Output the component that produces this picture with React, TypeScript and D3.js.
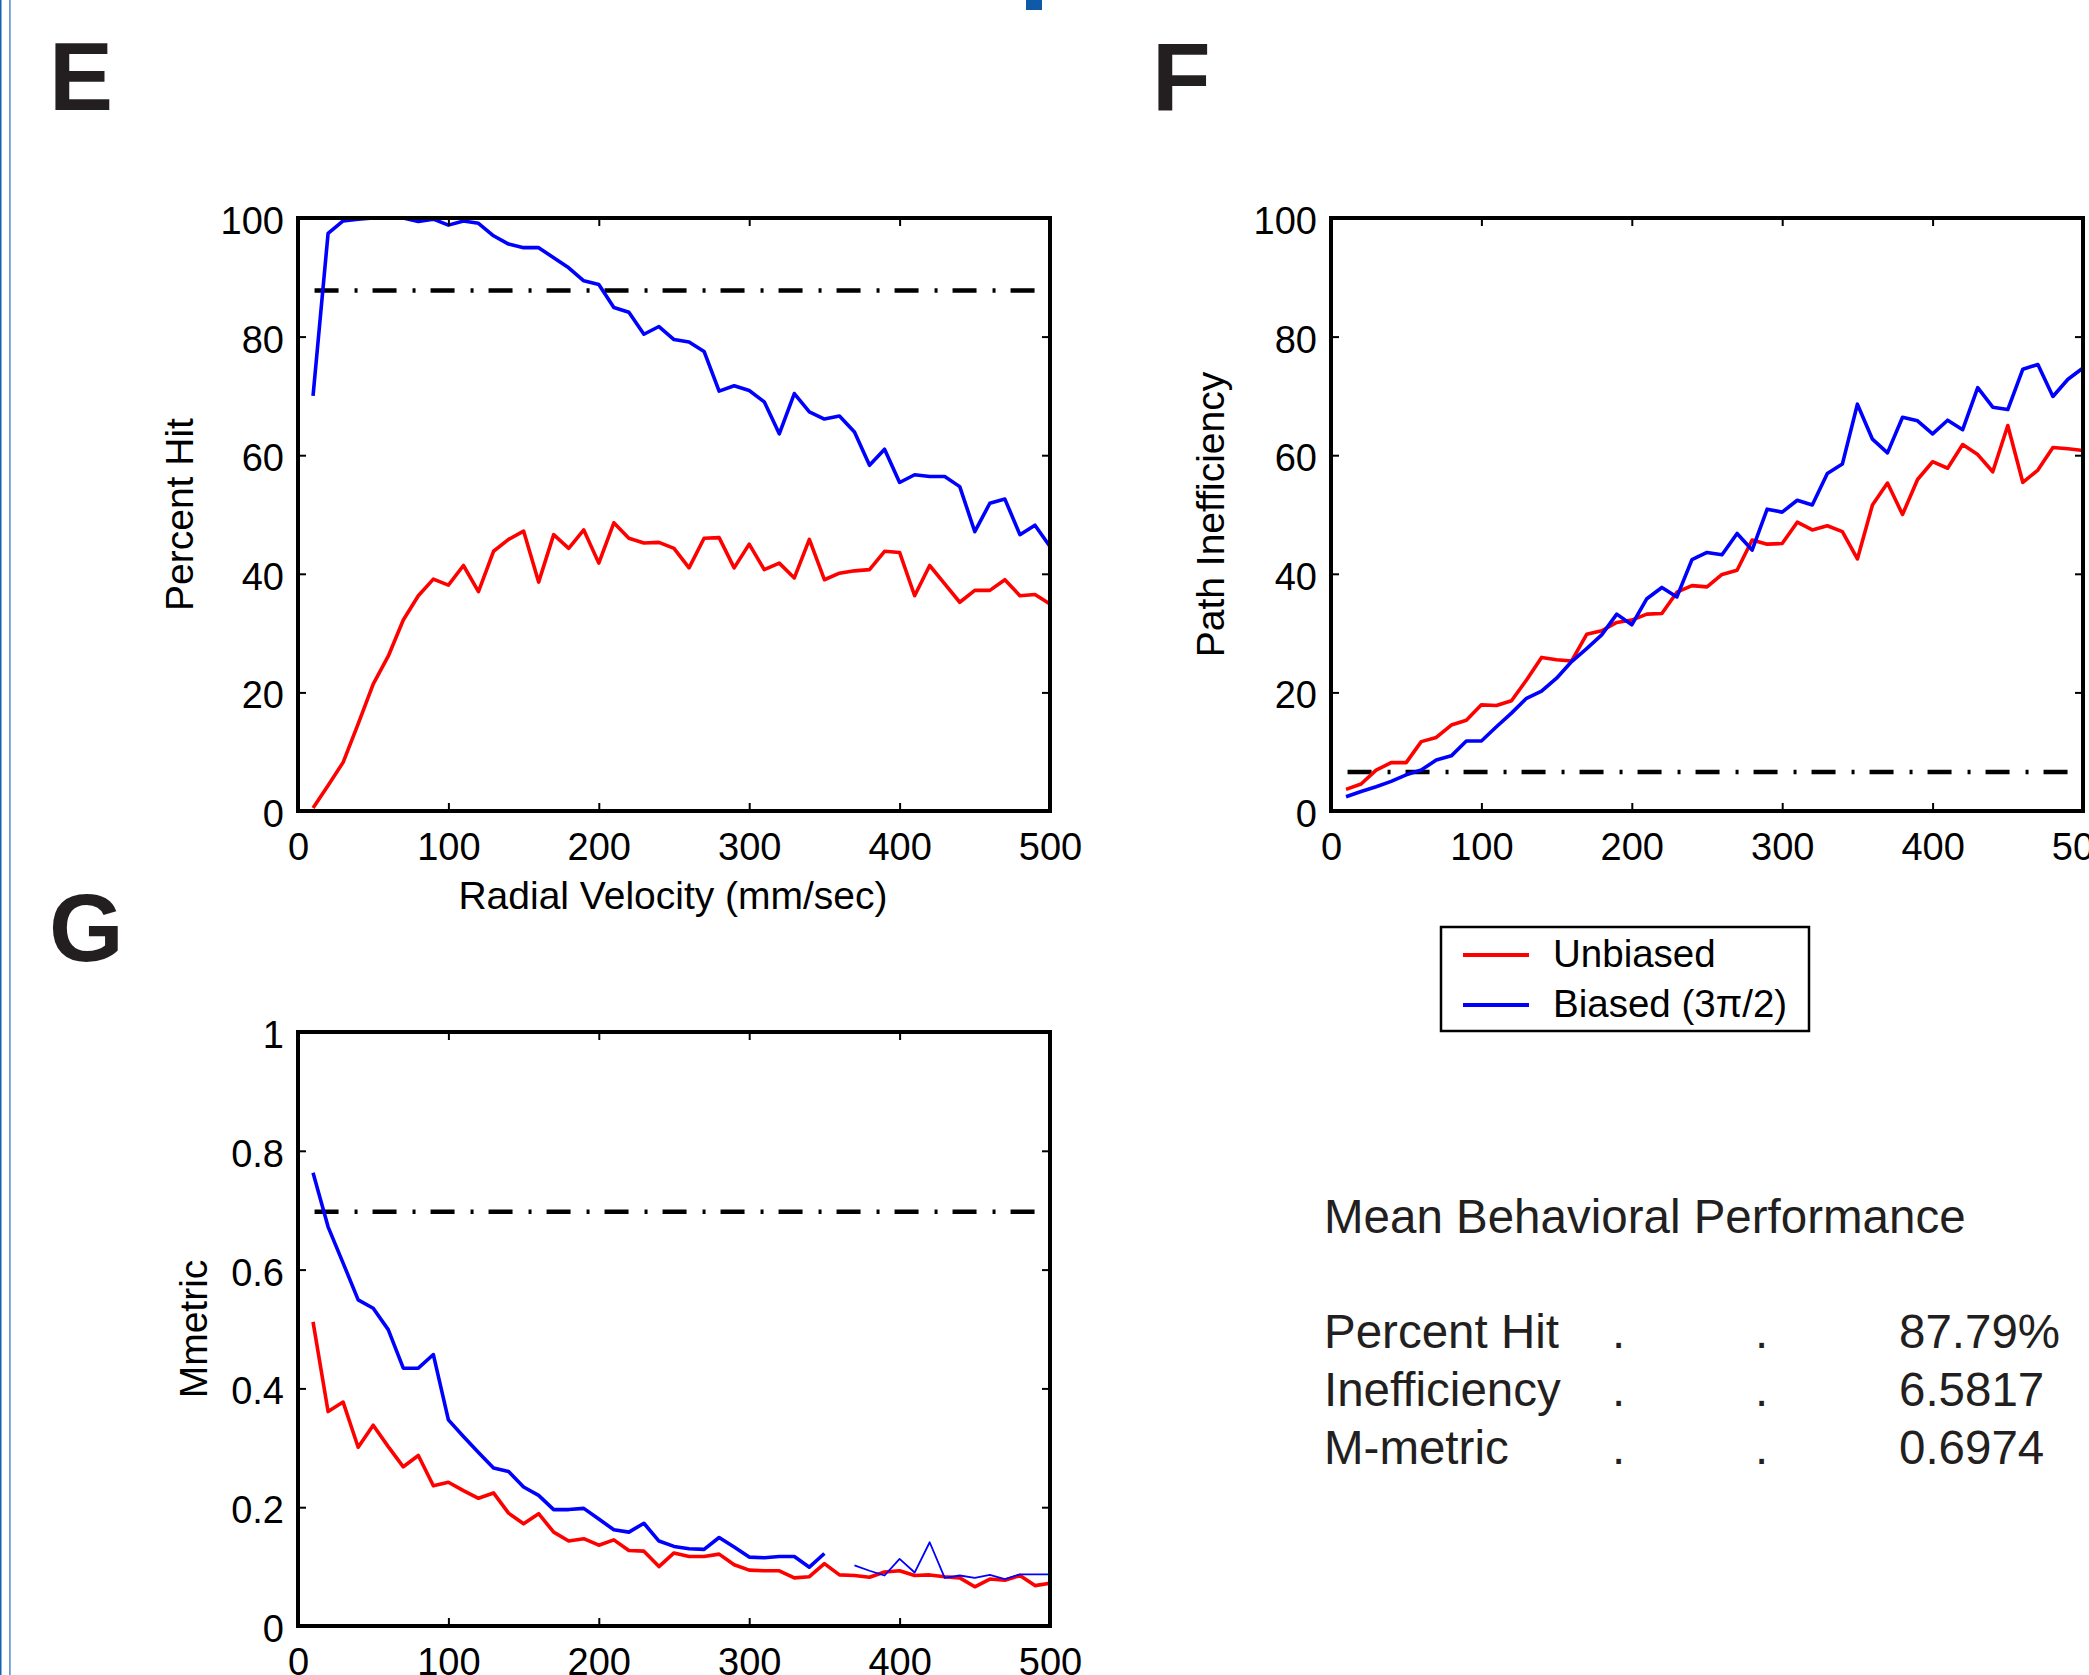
import { useEffect, useRef } from "react";
import * as d3 from "d3";

// velocities (mm/sec) at which each measure was sampled
const velocity = [
  10, 20, 30, 40, 50, 60, 70, 80, 90, 100,
  110, 120, 130, 140, 150, 160, 170, 180, 190, 200,
  210, 220, 230, 240, 250, 260, 270, 280, 290, 300,
  310, 320, 330, 340, 350, 360, 370, 380, 390, 400,
  410, 420, 430, 440, 450, 460, 470, 480, 490, 500,
];

const hitUnbiased = [
  0.5, 4.3, 8.2, 14.7, 21.4, 26.1, 32.2, 36.3, 39.1, 38.1,
  41.4, 37, 43.8, 45.8, 47.2, 38.6, 46.6, 44.3, 47.4, 41.8,
  48.6, 46, 45.2, 45.3, 44.3, 41, 46, 46.1, 41, 45,
  40.7, 41.8, 39.3, 45.8, 39, 40.1, 40.5, 40.7, 43.8, 43.6,
  36.3, 41.4, 38.3, 35.2, 37.2, 37.2, 39, 36.3, 36.5, 34.9,
];
const hitBiased = [
  70, 97.4, 99.5, 99.8, 100, 100, 100, 99.4, 99.8, 98.8,
  99.5, 99.1, 97, 95.6, 95, 95, 93.3, 91.6, 89.4, 88.8,
  84.9, 84.1, 80.4, 81.7, 79.5, 79.1, 77.5, 70.8, 71.7, 70.9,
  69, 63.6, 70.4, 67.3, 66.1, 66.6, 63.9, 58.3, 61, 55.4,
  56.7, 56.4, 56.4, 54.7, 47.1, 51.9, 52.6, 46.6, 48.2, 44.6,
];

const ineffUnbiased = [
  3.65, 4.55, 6.9, 8.15, 8.15, 11.7, 12.4, 14.5, 15.3, 17.9,
  17.8, 18.6, 22.1, 25.9, 25.5, 25.3, 29.8, 30.4, 31.8, 32.2,
  33.2, 33.3, 36.9, 38, 37.8, 39.9, 40.6, 45.7, 45, 45.1,
  48.7, 47.4, 48.1, 47.1, 42.5, 51.6, 55.3, 50, 55.9, 58.9,
  57.8, 61.8, 60.1, 57.2, 65, 55.4, 57.5, 61.3, 61.1, 60.8,
];
const ineffBiased = [
  2.4, 3.3, 4.1, 5, 6.1, 6.9, 8.6, 9.3, 11.8, 11.8,
  14.2, 16.5, 19, 20.2, 22.4, 25.2, 27.4, 29.7, 33.2, 31.4,
  35.8, 37.7, 36.1, 42.4, 43.6, 43.2, 46.8, 44, 50.9, 50.4,
  52.4, 51.6, 56.9, 58.5, 68.6, 62.7, 60.4, 66.4, 65.8, 63.6,
  65.9, 64.3, 71.4, 68.1, 67.7, 74.5, 75.3, 69.9, 72.8, 74.7,
];

const mmUnbiased = [
  0.512, 0.361, 0.377, 0.301, 0.338, 0.302, 0.268, 0.287, 0.236, 0.242,
  0.228, 0.215, 0.224, 0.19, 0.172, 0.189, 0.158, 0.143, 0.147, 0.136,
  0.145, 0.127, 0.126, 0.1, 0.123, 0.117, 0.117, 0.121, 0.103, 0.094,
  0.093, 0.093, 0.081, 0.083, 0.105, 0.086, 0.085, 0.082, 0.091, 0.093,
  0.085, 0.086, 0.083, 0.081, 0.066, 0.079, 0.077, 0.085, 0.068, 0.072,
];
// gap at 360, the tail after the gap is drawn with a thin pen in the original
const mmBiased = [
  0.763, 0.672, 0.611, 0.549, 0.535, 0.499, 0.434, 0.434, 0.457, 0.347,
  0.319, 0.292, 0.266, 0.26, 0.234, 0.22, 0.196, 0.196, 0.198, 0.18,
  0.162, 0.158, 0.173, 0.143, 0.134, 0.13, 0.129, 0.149, 0.133, 0.116,
  0.115, 0.117, 0.117, 0.099, 0.122, null, 0.102, 0.093, 0.085, 0.113,
  0.09, 0.141, 0.081, 0.085, 0.081, 0.086, 0.079, 0.087, 0.087, 0.087,
];

const xTicks = [0, 100, 200, 300, 400, 500];
const pctTicks = [0, 20, 40, 60, 80, 100];
const mmTicks = [0, 0.2, 0.4, 0.6, 0.8, 1];

// mean behavioral performance (also the dash-dot reference levels)
const statNames = ["Percent Hit", "Inefficiency", "M-metric"];
const statValues = ["87.79%", "6.5817", "0.6974"];
const statLevels = [87.79, 6.5817, 0.6974];

const legendNames = ["Unbiased", "Biased (3\u03c0/2)"];
const RED = "#ff0000";
const BLUE = "#0000ff";
const FONT = "'Liberation Sans', Arial, Helvetica, sans-serif";

type Panel = {
  letter: string;
  lx: number;
  ly: number;
  x0: number; x1: number; y0: number; y1: number;
  yMax: number;
  yTicks: number[];
  yLabel: string;
  yLabelX: number;
  xLabel?: string;
  ref: number;
  red: (number | null)[];
  blue: (number | null)[];
  thinAfter?: number;
};

function drawPanel(svg: any, p: Panel) {
  const x = d3.scaleLinear().domain([0, 500]).range([p.x0, p.x1]);
  const y = d3.scaleLinear().domain([0, p.yMax]).range([p.y1, p.y0]);

  svg.append("text")
    .attr("x", p.lx).attr("y", p.ly)
    .style("font-family", FONT).style("font-weight", "700").style("font-size", "96px")
    .attr("fill", "#231f20")
    .text(p.letter);

  // dash-dot mean level
  svg.append("line")
    .attr("x1", x(11)).attr("x2", x(492))
    .attr("y1", y(p.ref)).attr("y2", y(p.ref))
    .attr("stroke", "#000").attr("stroke-width", 4.5)
    .attr("stroke-dasharray", "24,16,3,15");

  const line = d3.line<any>()
    .defined(d => d.v != null)
    .x(d => x(d.x))
    .y(d => y(d.v));

  const series = [
    { vals: p.red, color: RED },
    { vals: p.blue, color: BLUE },
  ];
  series.forEach(s => {
    const pts = velocity.map((v, i) => ({ x: v, v: s.vals[i] }));
    if (p.thinAfter != null && s.color === BLUE) {
      const a = pts.filter(d => d.x <= p.thinAfter!);
      const b = pts.filter(d => d.x > p.thinAfter!);
      svg.append("path").attr("d", line(a)).attr("fill", "none")
        .attr("stroke", s.color).attr("stroke-width", 3.6).attr("stroke-linejoin", "round");
      svg.append("path").attr("d", line(b)).attr("fill", "none")
        .attr("stroke", s.color).attr("stroke-width", 1.8).attr("stroke-linejoin", "round");
    } else {
      svg.append("path").attr("d", line(pts)).attr("fill", "none")
        .attr("stroke", s.color).attr("stroke-width", 3.6).attr("stroke-linejoin", "round");
    }
  });

  const styleAxis = (g: any) => {
    g.select(".domain").remove();
    g.selectAll("line").attr("stroke", "#000").attr("stroke-width", 2);
    g.selectAll("text")
      .style("font-family", FONT).style("font-size", "38px").attr("fill", "#000");
  };

  const fmt = (d: any) => String(d);

  svg.append("g").attr("transform", `translate(0,${p.y1})`)
    .call(d3.axisBottom(x).tickValues(xTicks).tickSize(-8).tickPadding(22).tickFormat(fmt))
    .call(styleAxis);
  svg.append("g").attr("transform", `translate(${p.x0},0)`)
    .call(d3.axisLeft(y).tickValues(p.yTicks).tickSize(-8).tickPadding(14).tickFormat(fmt))
    .call(styleAxis)
    .selectAll("text").attr("dy", "0.41em");
  svg.append("g").attr("transform", `translate(0,${p.y0})`)
    .call(d3.axisTop(x).tickValues(xTicks).tickSize(-8).tickFormat(() => ""))
    .call(styleAxis);
  svg.append("g").attr("transform", `translate(${p.x1},0)`)
    .call(d3.axisRight(y).tickValues(p.yTicks).tickSize(-8).tickFormat(() => ""))
    .call(styleAxis);

  svg.append("rect")
    .attr("x", p.x0).attr("y", p.y0)
    .attr("width", p.x1 - p.x0).attr("height", p.y1 - p.y0)
    .attr("fill", "none").attr("stroke", "#000").attr("stroke-width", 4);

  svg.append("text")
    .attr("transform", `translate(${p.yLabelX},${(p.y0 + p.y1) / 2}) rotate(-90)`)
    .attr("text-anchor", "middle")
    .style("font-family", FONT).style("font-size", "39px").attr("fill", "#000")
    .text(p.yLabel);

  if (p.xLabel) {
    svg.append("text")
      .attr("x", (p.x0 + p.x1) / 2 - 1).attr("y", p.y1 + 98)
      .attr("text-anchor", "middle")
      .style("font-family", FONT).style("font-size", "39px").attr("fill", "#000")
      .text(p.xLabel);
  }
}

export default function App() {
  const ref = useRef<SVGSVGElement>(null);

  useEffect(() => {
    const el = ref.current;
    if (!el) return;
    const svg = d3.select(el);
    svg.selectAll("*").remove();

    svg.append("rect").attr("width", 2089).attr("height", 1675).attr("fill", "#fff");

    // page edge rules and the clipped mark at the top
    svg.append("rect").attr("x", 0).attr("y", 0).attr("width", 1.5).attr("height", 1675).attr("fill", "#1560b8");
    svg.append("rect").attr("x", 9).attr("y", 0).attr("width", 1.8).attr("height", 1675).attr("fill", "#6f9fd4");
    svg.append("rect").attr("x", 1026).attr("y", 0).attr("width", 16).attr("height", 10).attr("fill", "#0f5aa8");

    const panels: Panel[] = [
      {
        letter: "E", lx: 49, ly: 110,
        x0: 298, x1: 1050, y0: 218, y1: 811,
        yMax: 100, yTicks: pctTicks, yLabel: "Percent Hit", yLabelX: 193,
        xLabel: "Radial Velocity (mm/sec)",
        ref: statLevels[0], red: hitUnbiased, blue: hitBiased,
      },
      {
        letter: "F", lx: 1152, ly: 110,
        x0: 1331, x1: 2083, y0: 218, y1: 811,
        yMax: 100, yTicks: pctTicks, yLabel: "Path Inefficiency", yLabelX: 1224,
        ref: statLevels[1], red: ineffUnbiased, blue: ineffBiased,
      },
      {
        letter: "G", lx: 49, ly: 961,
        x0: 298, x1: 1050, y0: 1032, y1: 1626,
        yMax: 1, yTicks: mmTicks, yLabel: "Mmetric", yLabelX: 207,
        ref: statLevels[2], red: mmUnbiased, blue: mmBiased, thinAfter: 355,
      },
    ];
    panels.forEach(p => drawPanel(svg, p));

    // legend
    const lg = svg.append("g");
    lg.append("rect")
      .attr("x", 1441).attr("y", 927).attr("width", 368).attr("height", 104)
      .attr("fill", "#fff").attr("stroke", "#000").attr("stroke-width", 2.5);
    [RED, BLUE].forEach((c, i) => {
      const cy = 955 + i * 50;
      lg.append("line").attr("x1", 1463).attr("x2", 1529).attr("y1", cy).attr("y2", cy)
        .attr("stroke", c).attr("stroke-width", 4);
      lg.append("text").attr("x", 1553).attr("y", cy + 12)
        .style("font-family", FONT).style("font-size", "38.5px").attr("fill", "#000")
        .text(legendNames[i]);
    });

    // mean performance table
    const tg = svg.append("g").style("font-family", FONT).style("font-size", "47.5px").attr("fill", "#231f20");
    tg.append("text").attr("x", 1324).attr("y", 1233).text("Mean Behavioral Performance");
    statNames.forEach((n, i) => {
      const by = 1348 + i * 58;
      tg.append("text").attr("x", 1324).attr("y", by).text(n);
      tg.append("text").attr("x", 1612).attr("y", by).text(".");
      tg.append("text").attr("x", 1755).attr("y", by).text(".");
      tg.append("text").attr("x", 1899).attr("y", by).text(statValues[i]);
    });

    return () => { svg.selectAll("*").remove(); };
  }, []);

  return (
    <svg
      ref={ref}
      width={2089}
      height={1675}
      style={{ position: "absolute", left: 0, top: 0, display: "block" }}
    />
  );
}
